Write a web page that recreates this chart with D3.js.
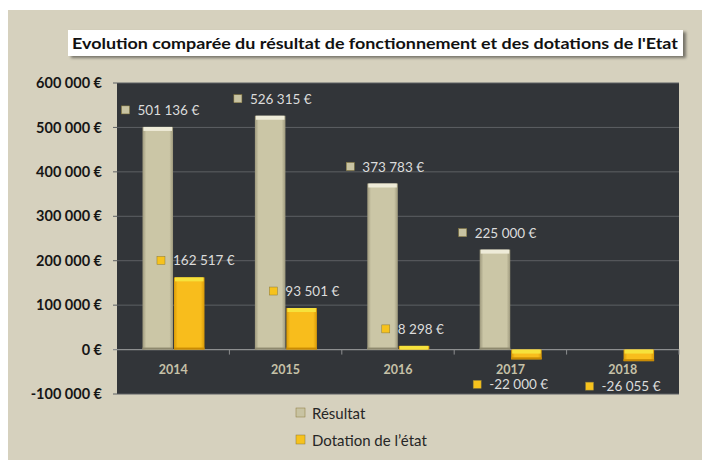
<!DOCTYPE html>
<html lang="fr">
<head>
<meta charset="UTF-8">
<title>Evolution comparée</title>
<script src="https://d3js.org/d3.v7.min.js"></script>
<style>
    body { margin: 0; padding: 0; background: #fff; }
    svg { display: block; font-family: Lato, "Open Sans", sans-serif; }
</style>
</head>
<body>
<svg id="chart" width="702" height="460"></svg>
<script>
    // data
    const years = ["2014", "2015", "2016", "2017", "2018"];
    const resultat = [501136, 526315, 373783, 225000, null];
    const dotation = [162517, 93501, 8298, -22000, -26055];
    const yTicks = [-100000, 0, 100000, 200000, 300000, 400000, 500000, 600000];
    const seriesNames = ["Résultat", "Dotation de l’état"];
    const title = "Evolution comparée du résultat de fonctionnement  et des dotations de l'Etat";

    const W = 702, H = 460;
    const plot = { left: 117, right: 679, top: 83, bottom: 394 };

    const fr = d3.formatLocale({
        decimal: ",", thousands: "\u00a0", grouping: [3],
        currency: ["", " €"], minus: "-"
    });
    const euro = fr.format("$,.0f");

    const svg = d3.select("#chart");
    const defs = svg.append("defs");

    // gradients for the bevelled bars
    function barGradient(id, edge, mid) {
        const g = defs.append("linearGradient").attr("id", id)
            .attr("x1", "0%").attr("x2", "100%");
        g.append("stop").attr("offset", "0%").attr("stop-color", edge);
        g.append("stop").attr("offset", "12%").attr("stop-color", mid);
        g.append("stop").attr("offset", "88%").attr("stop-color", mid);
        g.append("stop").attr("offset", "100%").attr("stop-color", edge);
    }
    barGradient("gRes", "#9d987c", "#cbc6a6");
    barGradient("gDot", "#d99a08", "#f8bd1c");

    const shadow = defs.append("filter").attr("id", "shadow")
        .attr("x", "-5%").attr("y", "-20%").attr("width", "115%").attr("height", "160%");
    shadow.append("feDropShadow").attr("dx", 3).attr("dy", 2)
        .attr("stdDeviation", 1.5).attr("flood-color", "#000").attr("flood-opacity", 0.45);

    // background
    svg.append("rect").attr("x", 8).attr("y", 10).attr("width", W - 8).attr("height", H - 10)
        .attr("fill", "#d6d1be");

    // title box
    svg.append("rect").attr("x", 68).attr("y", 30).attr("width", 615).attr("height", 26)
        .attr("fill", "#fff").attr("filter", "url(#shadow)");
    svg.append("text").attr("x", 375).attr("y", 48.5)
        .attr("text-anchor", "middle")
        .attr("font-size", 16).attr("font-weight", "bold").attr("fill", "#111")
        .attr("textLength", 606).attr("lengthAdjust", "spacingAndGlyphs")
        .text(title);

    // plot area
    svg.append("rect").attr("x", plot.left).attr("y", plot.top)
        .attr("width", plot.right - plot.left).attr("height", plot.bottom - plot.top)
        .attr("fill", "#323539");

    const x = d3.scaleBand().domain(years).range([plot.left, plot.right]);
    const xIn = d3.scaleBand().domain([0, 1]).range([25.5, 87.5]).paddingInner(0.03);
    const y = d3.scaleLinear().domain([-100000, 600000]).range([plot.bottom, plot.top]);

    // gridlines
    svg.append("g").selectAll("line").data(yTicks.filter(d => d !== 0)).join("line")
        .attr("x1", plot.left - 4).attr("x2", plot.right)
        .attr("y1", d => y(d)).attr("y2", d => y(d))
        .attr("stroke", "#5d6064").attr("stroke-width", 1);

    // y axis labels
    const yAxis = d3.axisLeft(y).tickValues(yTicks).tickSize(0).tickPadding(15)
        .tickFormat(euro);
    svg.append("g").attr("transform", `translate(${plot.left},0)`).call(yAxis)
        .call(g => g.select(".domain").remove())
        .call(g => g.selectAll("text")
            .attr("font-family", "Lato, sans-serif")
            .attr("font-size", 14.5).attr("font-weight", "bold").attr("fill", "#161616"));

    // zero line + category ticks
    svg.append("line").attr("x1", plot.left - 4).attr("x2", plot.right)
        .attr("y1", y(0)).attr("y2", y(0))
        .attr("stroke", "#8d8f90").attr("stroke-width", 1.2);
    svg.append("g").selectAll("line").data(years.slice(1).concat(["end"])).join("line")
        .attr("x1", (d, i) => plot.left + x.step() * (i + 1))
        .attr("x2", (d, i) => plot.left + x.step() * (i + 1))
        .attr("y1", y(0)).attr("y2", y(0) + 5)
        .attr("stroke", "#8d8f90");

    // x labels
    svg.append("g").selectAll("text").data(years).join("text")
        .attr("x", d => x(d) + x.bandwidth() / 2).attr("y", y(0) + 24)
        .attr("text-anchor", "middle")
        .attr("font-size", 12.5).attr("font-weight", "bold").attr("fill", "#c6c1a8")
        .text(d => d);

    // bars
    const series = [
        { values: resultat, grad: "url(#gRes)", cap: "#eeebd8", low: "#8e896e", mark: "#c8c3a2", shift: 17 },
        { values: dotation, grad: "url(#gDot)", cap: "#f6e23c", low: "#c98b05", mark: "#f6c21d", shift: 13 }
    ];

    const barLayer = svg.append("g");
    const labelLayer = svg.append("g");

    series.forEach((s, si) => {
        const pts = years.map((yr, i) => ({ yr, v: s.values[i] })).filter(d => d.v !== null);
        pts.forEach(d => {
            const bx = x(d.yr) + xIn(si);
            const bw = xIn.bandwidth();
            const top = y(Math.max(0, d.v));
            const bot = y(Math.min(0, d.v));
            const h = Math.max(bot - top, 1);
            barLayer.append("rect").attr("x", bx).attr("y", top).attr("width", bw).attr("height", h)
                .attr("fill", s.grad);
            barLayer.append("rect").attr("x", bx + 1).attr("y", top).attr("width", bw - 2)
                .attr("height", Math.min(4, h)).attr("fill", s.cap);
            if (h > 6) {
                barLayer.append("rect").attr("x", bx).attr("y", bot - 2).attr("width", bw)
                    .attr("height", 2).attr("fill", s.low);
            }

            // data label with small marker
            let lx, ly;
            if (d.v >= 0) {
                lx = bx - s.shift;
                ly = top - 17;
            } else {
                lx = bx - 34;
                ly = bot + 25;
            }
            labelLayer.append("rect").attr("x", lx - 4).attr("y", ly - 4).attr("width", 8).attr("height", 8)
                .attr("fill", s.mark).attr("stroke", "#8a7a3a").attr("stroke-width", 0.5);
            labelLayer.append("text").attr("x", lx + 12).attr("y", ly + 5)
                .attr("font-size", 13.5).attr("fill", "#dcdcdc")
                .text(euro(d.v));
        });
    });

    // legend
    const legend = svg.append("g").attr("transform", "translate(300,413)");
    seriesNames.forEach((name, i) => {
        legend.append("rect").attr("x", -4).attr("y", i * 27 - 5).attr("width", 9).attr("height", 9)
            .attr("fill", series[i].mark).attr("stroke", "#8a7a3a").attr("stroke-width", 0.5);
        legend.append("text").attr("x", 12).attr("y", i * 27 + 5.5)
            .attr("font-size", 15).attr("fill", "#262626")
            .text(name);
    });
</script>
</body>
</html>
